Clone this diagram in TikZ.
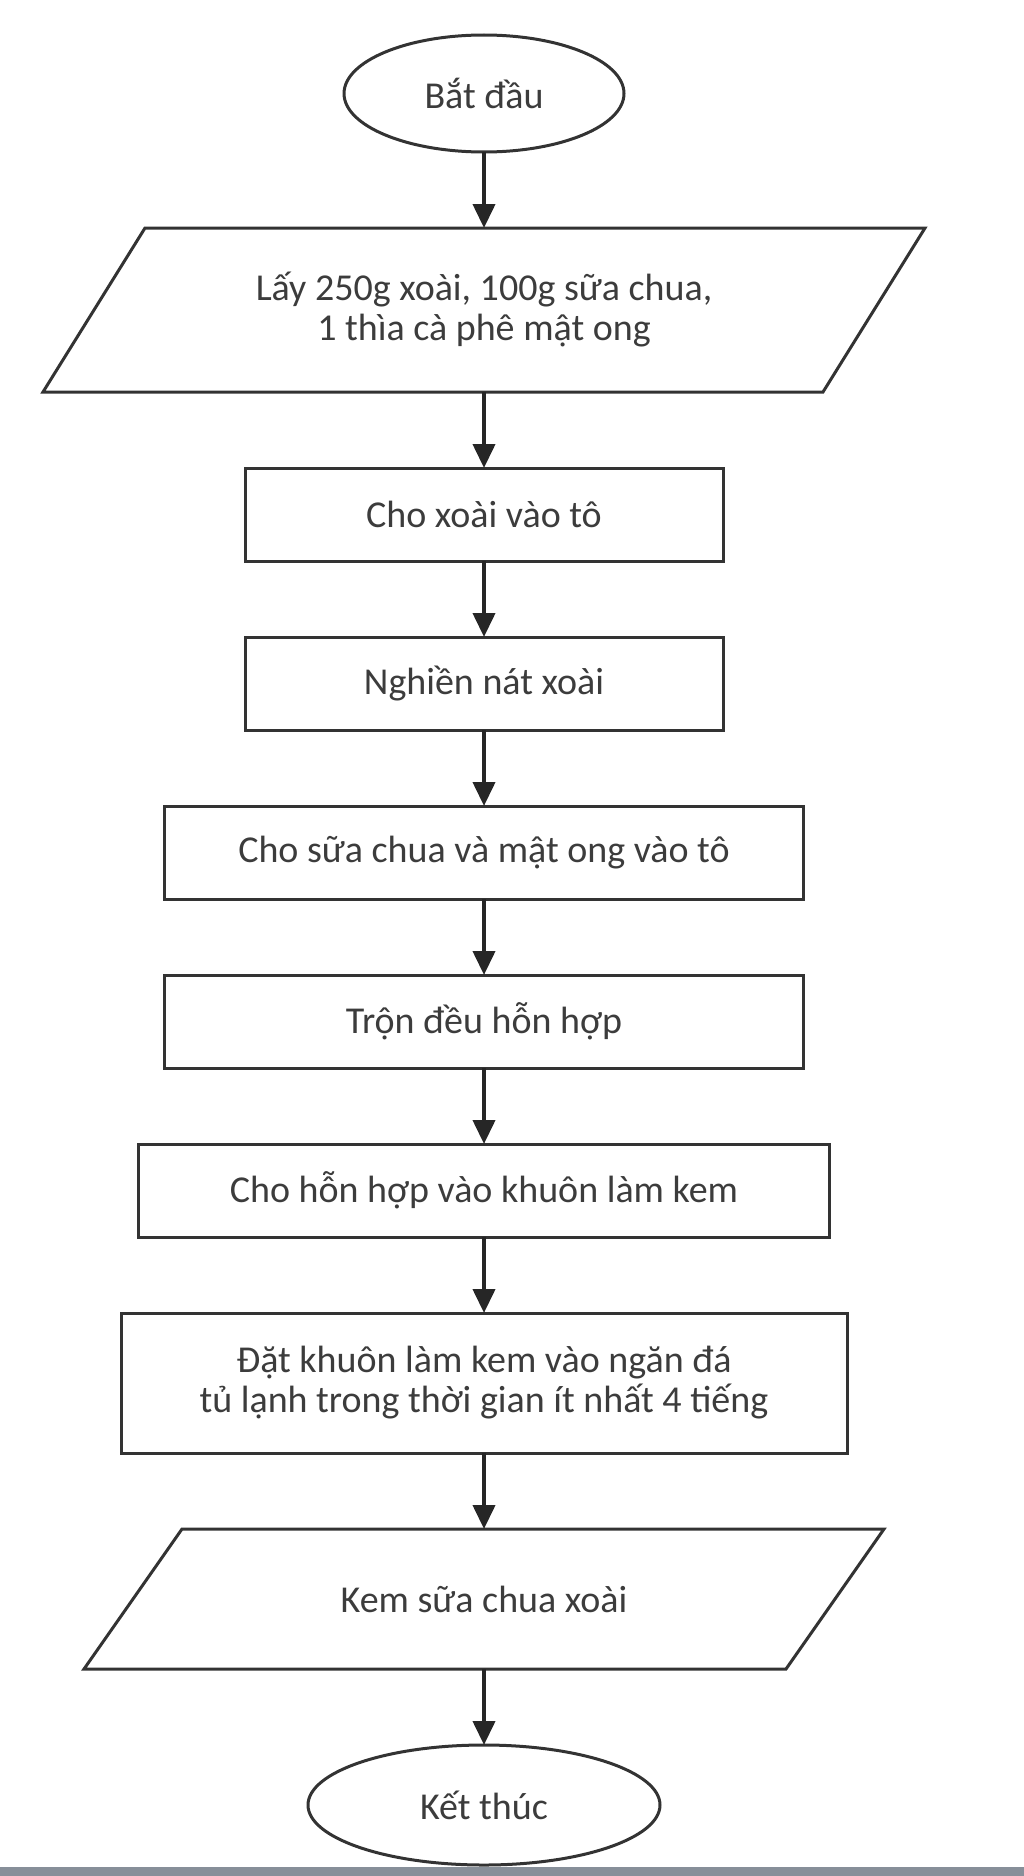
\documentclass[tikz,border=0pt]{standalone}
\usepackage{fontspec}
\setmainfont{Carlito}
\usetikzlibrary{shapes.geometric}
\usetikzlibrary{arrows.meta}
\usetikzlibrary{positioning}

\definecolor{edgegray}{HTML}{333333}
\definecolor{textgray}{HTML}{3C3C3C}
\definecolor{bargray}{HTML}{878F99}

\begin{document}
\begin{tikzpicture}[x=1pt, y=-1pt, node distance=76pt,
  every node/.style={font=\fontsize{38}{40}\selectfont, text=textgray, align=center, outer sep=0pt},
  outline/.style={draw=edgegray, line width=3pt},
  terminal/.style={outline, ellipse, inner sep=0pt},
  io/.style={rectangle, inner sep=0pt},
  process/.style={outline, rectangle, minimum height=93pt, inner sep=0pt},
  flow/.style={->, >={Triangle[length=24pt, width=22pt]}, line width=4pt, draw=black!85}]

  \useasboundingbox (0,0) rectangle (1024,1876);

  % Define nodes
  \node[terminal, minimum width=280pt, minimum height=117pt] (start) at (484,93.5) {Bắt đầu};
  \node[io, below=of start, minimum width=780pt, minimum height=164pt] (ingredients) {Lấy 250g xoài, 100g sữa chua,\\1 thìa cà phê mật ong};
  \node[process, below=of ingredients, minimum width=478pt] (bowl) {Cho xoài vào tô};
  \node[process, below=of bowl, minimum width=478pt] (mash) {Nghiền nát xoài};
  \node[process, below=of mash, minimum width=639pt] (addyogurt) {Cho sữa chua và mật ong vào tô};
  \node[process, below=of addyogurt, minimum width=639pt] (mix) {Trộn đều hỗn hợp};
  \node[process, below=of mix, minimum width=691pt] (mould) {Cho hỗn hợp vào khuôn làm kem};
  \node[process, below=of mould, minimum width=726pt, minimum height=140pt] (freeze) {Đặt khuôn làm kem vào ngăn đá\\tủ lạnh trong thời gian ít nhất 4 tiếng};
  \node[io, below=of freeze, minimum width=702pt, minimum height=140pt] (icecream) {Kem sữa chua xoài};
  \node[terminal, below=of icecream, minimum width=352pt, minimum height=120pt] (stop) {Kết thúc};

  % Slanted sides of the input/output boxes
  \draw[outline] ([xshift=51pt]ingredients.north west) -- ([xshift=51pt]ingredients.north east)
    -- ([xshift=-51pt]ingredients.south east) -- ([xshift=-51pt]ingredients.south west) -- cycle;
  \draw[outline] ([xshift=49pt]icecream.north west) -- ([xshift=49pt]icecream.north east)
    -- ([xshift=-49pt]icecream.south east) -- ([xshift=-49pt]icecream.south west) -- cycle;

  % Connect the nodes
  \draw[flow] (start) -- (ingredients);
  \draw[flow] (ingredients) -- (bowl);
  \draw[flow] (bowl) -- (mash);
  \draw[flow] (mash) -- (addyogurt);
  \draw[flow] (addyogurt) -- (mix);
  \draw[flow] (mix) -- (mould);
  \draw[flow] (mould) -- (freeze);
  \draw[flow] (freeze) -- (icecream);
  \draw[flow] (icecream) -- (stop);

  % Bottom strip
  \fill[bargray] (0,1867) rectangle (1024,1876);

\end{tikzpicture}
\end{document}
